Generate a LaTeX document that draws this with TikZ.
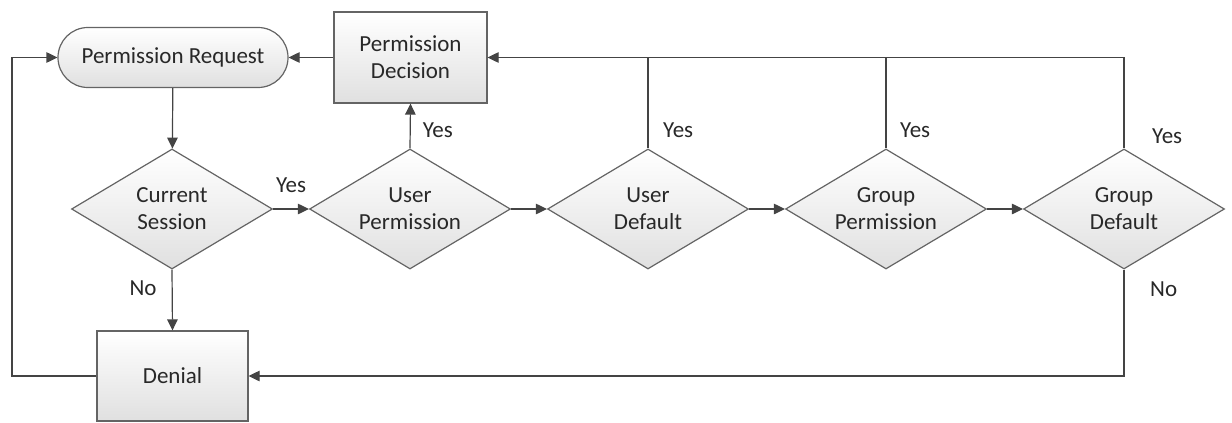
\documentclass[tikz,border=0pt]{standalone}
\usepackage{fontspec}
\setmainfont{Carlito}
\usetikzlibrary{shapes.geometric,arrows.meta}
\definecolor{linegray}{RGB}{68,68,68}
\definecolor{edgegray}{RGB}{100,100,100}
\definecolor{txtgray}{RGB}{40,40,40}
\definecolor{fillbot}{RGB}{224,224,224}
\tikzset{
  every node/.style={font=\fontsize{23}{27}\selectfont, text=txtgray},
  shaded/.style={draw=edgegray, line width=1.2pt, top color=white, bottom color=fillbot},
  decision/.style={shaded, diamond, aspect=1.675, minimum width=201pt, minimum height=120pt, inner sep=0pt, align=center},
  process/.style={shaded, rectangle, inner sep=0pt, align=center},
  terminal/.style={shaded, rectangle, rounded corners=29.9pt, minimum width=230pt, minimum height=60pt, inner sep=0pt},
  link/.style={draw=linegray, line width=1.2pt},
  arr/.style={link, -{Triangle[length=11pt,width=10.5pt]}},
  lbl/.style={inner sep=0pt}
}
\begin{document}
\begin{tikzpicture}[x=1pt,y=-1pt]
\useasboundingbox (0,0) rectangle (1232,423);

% nodes
\node[terminal] (req) at (173,57.5) {Permission Request};
\node[process, minimum width=153pt, minimum height=91pt] (dec) at (410.5,57.5) {Permission\\Decision};
\node[process, minimum width=151pt, minimum height=90pt] (den) at (172.5,376) {Denial};
\node[decision] (cs) at (172,209) {Current\\Session};
\node[decision] (up) at (410,209) {User\\Permission};
\node[decision] (ud) at (648,209) {User\\Default};
\node[decision] (gp) at (886,209) {Group\\Permission};
\node[decision] (gd) at (1124,209) {Group\\Default};
\coordinate (loop) at (12,376);

% main flow
\draw[arr] (req) -- (cs);
\draw[arr] (cs.east) -- node[lbl, yshift=24pt] {Yes} (up.west);
\draw[arr] (up.east) -- (ud.west);
\draw[arr] (ud.east) -- (gp.west);
\draw[arr] (gp.east) -- (gd.west);
\draw[arr] (cs.south) -- node[lbl, pos=0.3, anchor=east, xshift=-15pt] {No} (den.north);

% Yes branches back to the decision box
\draw[arr] (up.north) -- node[lbl, pos=0.4, anchor=west, xshift=12pt] {Yes} (dec.south);
\draw[arr] (gd.north) |- (dec.east);
\draw[link] (ud.north) -- (ud.north |- dec.east);
\draw[link] (gp.north) -- (gp.north |- dec.east);
\node[lbl, anchor=west] at ([xshift=15pt,yshift=18pt]ud.north) {Yes};
\node[lbl, anchor=west] at ([xshift=14pt,yshift=18pt]gp.north) {Yes};
\node[lbl, anchor=west] at ([xshift=28pt,yshift=12pt]gd.north) {Yes};

% No branch to denial, and denial back to request
\draw[arr] (gd.south) |- (den.east);
\node[lbl, anchor=west] at ([xshift=26pt,yshift=-20pt]gd.south) {No};
\draw[arr] (dec.west) -- (req.east);
\draw[arr] (den.west) -- (loop) |- (req.west);
\end{tikzpicture}
\end{document}
